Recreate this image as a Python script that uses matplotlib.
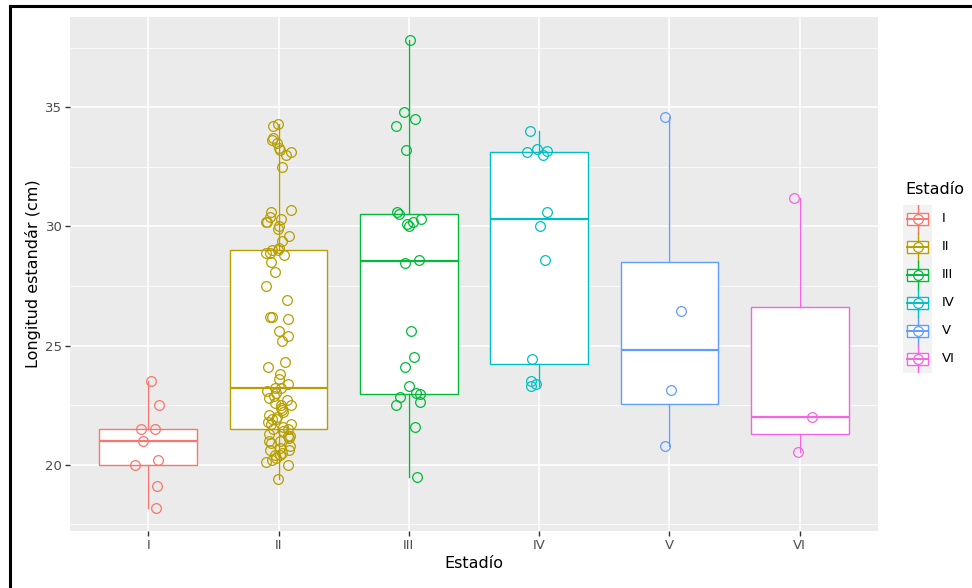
import numpy as np
import matplotlib
matplotlib.use("Agg")
import matplotlib.pyplot as plt
from matplotlib.patches import Rectangle
from matplotlib.lines import Line2D

# Longitud estandar (cm) por estadio
estadios = ["I", "II", "III", "IV", "V", "VI"]
colores = ["#F8766D", "#B79F00", "#00BA38", "#00BFC4", "#619CFF", "#F564E3"]

est_I = [23.5, 22.5, 21.5, 21.5, 21.0, 20.2, 20.0, 19.1, 18.2]
est_II = [34.3, 34.2, 33.7, 33.6, 33.5, 33.3, 33.2, 33.1, 33.0, 32.5,
          30.7, 30.6, 30.4, 30.3, 30.2, 30.2, 30.0, 29.9, 29.6, 29.4,
          29.1, 29.0, 29.0, 28.9, 28.9, 28.8, 28.5, 28.1, 27.5, 26.9,
          26.2, 26.2, 26.1, 25.6, 25.4, 25.2, 24.3, 24.1, 23.8, 23.6,
          23.4, 23.2, 23.2, 23.1, 23.0, 22.9, 22.8, 22.7, 22.6, 22.5,
          22.5, 22.4, 22.3, 22.2, 22.1, 22.0, 21.9, 21.9, 21.8, 21.7,
          21.7, 21.6, 21.5, 21.5, 21.4, 21.3, 21.2, 21.2, 21.1, 21.0,
          21.0, 20.9, 20.8, 20.7, 20.6, 20.6, 20.5, 20.4, 20.4, 20.3,
          20.2, 20.1, 20.0, 19.4]
est_III = [37.8, 34.8, 34.5, 34.2, 33.2, 30.6, 30.5, 30.3, 30.2, 30.1,
           30.0, 28.6, 28.45, 25.6, 24.5, 24.1, 23.3, 23.0, 22.95, 22.85,
           22.65, 22.5, 21.6, 19.5]
est_IV = [34.0, 33.25, 33.15, 33.1, 33.0, 30.6, 30.0, 28.6, 24.45, 23.5,
          23.4, 23.3]
est_V = [34.6, 26.45, 23.15, 20.8]
est_VI = [31.2, 22.0, 20.55]

datos = [est_I, est_II, est_III, est_IV, est_V, est_VI]

fig = plt.figure(figsize=(9.72, 5.88), dpi=100)
ax = fig.add_axes([70 / 972, 1 - 531 / 588, 808 / 972, 514 / 588])
ax.set_facecolor("#EBEBEB")
for s in ax.spines.values():
    s.set_visible(False)

pos = np.arange(1, len(estadios) + 1)

# grid (ggplot grey theme)
todos = np.concatenate([np.array(d) for d in datos])
lo, hi = todos.min(), todos.max()
pad = 0.05 * (hi - lo)
ax.set_ylim(lo - pad, hi + pad)
ax.set_xlim(0.4, len(estadios) + 0.6)
for y in [17.5, 22.5, 27.5, 32.5, 37.5]:
    ax.axhline(y, color="white", lw=0.55, zorder=0)
for y in [20, 25, 30, 35]:
    ax.axhline(y, color="white", lw=1.1, zorder=0)
for x in pos:
    ax.axvline(x, color="white", lw=1.1, zorder=0)

for i, (d, c) in enumerate(zip(datos, colores)):
    bp = ax.boxplot([d], positions=[pos[i]], widths=0.75, whis=1.5,
                    patch_artist=True, showcaps=False, showfliers=False,
                    manage_ticks=False, zorder=2)
    for b in bp["boxes"]:
        b.set_facecolor("white")
        b.set_edgecolor(c)
        b.set_linewidth(1.0)
    for w in bp["whiskers"]:
        w.set_color(c)
        w.set_linewidth(1.0)
    for m in bp["medians"]:
        m.set_color(c)
        m.set_linewidth(1.6)

# jittered points
rng = np.random.default_rng(7)
for i, (d, c) in enumerate(zip(datos, colores)):
    xj = pos[i] + rng.uniform(-0.1, 0.1, len(d))
    ax.plot(xj, d, "o", mfc="none", mec=c, ms=7, mew=0.9, zorder=3)

ax.set_xticks(pos)
ax.set_xticklabels(estadios)
ax.set_yticks([20, 25, 30, 35])
ax.tick_params(axis="both", colors="#333333", length=3.5, width=1.0,
               labelsize=9.5, labelcolor="#4D4D4D", pad=2)
ax.set_xlabel("Estadío", fontsize=11.5, color="black", labelpad=3)
ax.set_ylabel("Longitud estandár (cm)", fontsize=11.5, color="black",
              labelpad=3)

# legend drawn as small boxplot keys
fig.text(905 / 972, 1 - 190 / 588, "Estadío", fontsize=11.5,
         ha="left", va="center")
lax = fig.add_axes([903 / 972, 1 - 373 / 588, 29 / 972, 168 / 588])
lax.set_xlim(0, 1)
lax.set_ylim(0, len(estadios))
lax.set_facecolor("#F2F2F2")
lax.set_xticks([])
lax.set_yticks([])
for s in lax.spines.values():
    s.set_visible(False)
for k, (lab, c) in enumerate(zip(estadios, colores)):
    yc = len(estadios) - k - 0.5
    lax.plot([0.5, 0.5], [yc - 0.5, yc + 0.5], color=c, lw=1.0)
    lax.add_patch(Rectangle((0.14, yc - 0.2), 0.72, 0.4, fc="white",
                            ec=c, lw=1.0, zorder=2))
    lax.plot([0.14, 0.86], [yc, yc], color=c, lw=1.4, zorder=3)
    lax.plot([0.5], [yc], "o", mfc="none", mec=c, ms=7, mew=0.9, zorder=4)
    fig.text(942 / 972, 1 - (205 + 28 * k + 14) / 588, lab, fontsize=9.5,
             ha="left", va="center")

# black frame on the left and top edges
fx, fy = 10 / 972, 1 - 6 / 588
fig.add_artist(Line2D([fx, fx], [0, fy], transform=fig.transFigure,
                      color="black", lw=2.2))
fig.add_artist(Line2D([fx, 1], [fy, fy], transform=fig.transFigure,
                      color="black", lw=2.2))

fig.savefig("out.png", dpi=100)
